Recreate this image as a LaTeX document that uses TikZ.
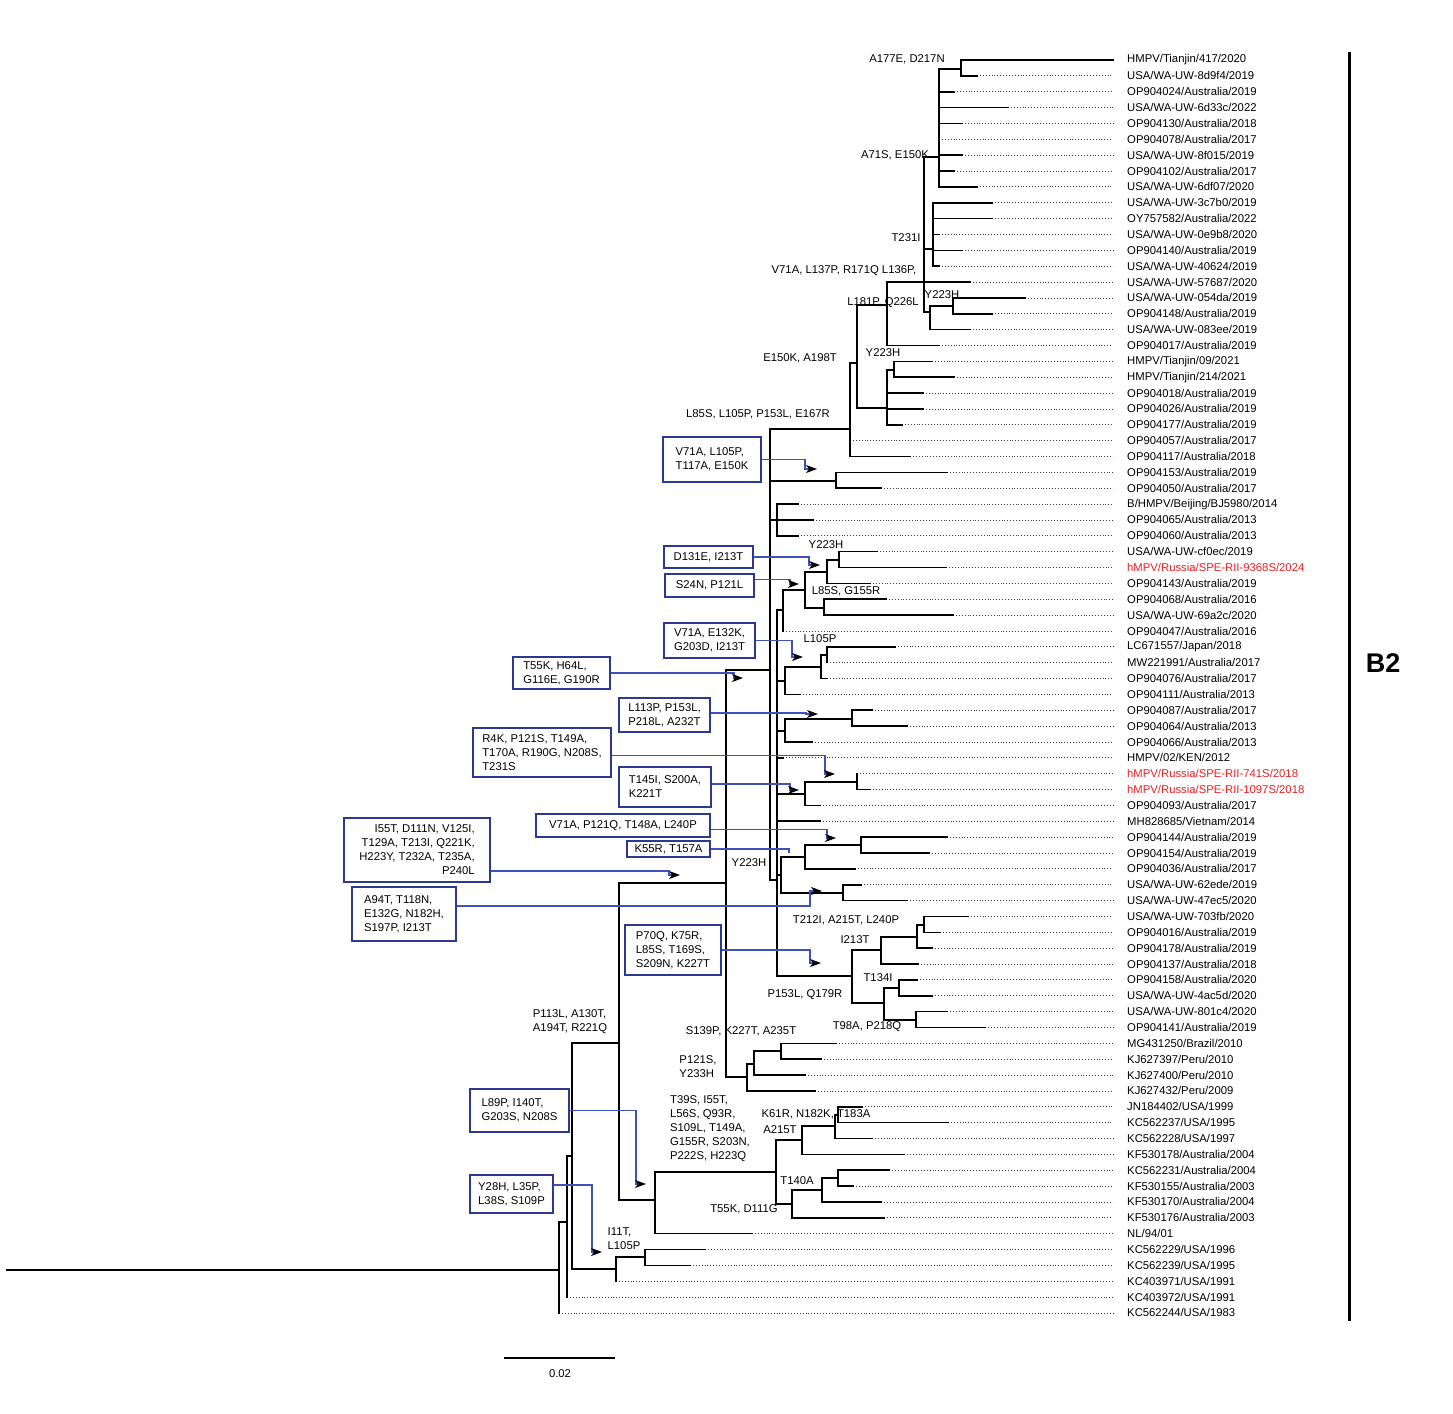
\documentclass[tikz,border=0pt]{standalone}
\usepackage{fontspec}
\setmainfont{Liberation Sans}
\usepackage{tikz}
\usetikzlibrary{arrows.meta}
\definecolor{boxblue}{RGB}{43,57,144}
\definecolor{callblue}{RGB}{62,82,185}
\definecolor{seqred}{RGB}{236,32,36}
\def\drawbranch{\draw[color=black, line width=1.6pt, line cap=rect]}
\def\drawtwig{\draw[color=black!75, line width=0.8pt, dash pattern=on 0.9pt off 2pt]}
\def\drawcall{\draw[color=callblue, line width=1.1pt, -{Stealth[color=black,length=11pt,width=8pt,inset=3pt]}]}
\tikzset{
  mutbox/.style={draw=boxblue, line width=2pt, align=left, anchor=north west, inner sep=3pt},
  mutlbl/.style={align=left, inner sep=0pt},
  leaflbl/.style={anchor=west, inner sep=0pt}
}

\begin{document}
\begin{tikzpicture}[x=1pt, y=-1pt, font=\fontsize{11.3}{14}\selectfont]
\useasboundingbox (0,0) rectangle (1453,1413);
% tips of the tree
\foreach \i/\ex/\col/\nm in {
 1/1113/black/{HMPV/Tianjin/417/2020}, 2/977/black/{USA/WA-UW-8d9f4/2019},
 3/954/black/{OP904024/Australia/2019}, 4/1008/black/{USA/WA-UW-6d33c/2022},
 5/962/black/{OP904130/Australia/2018}, 6/939/black/{OP904078/Australia/2017},
 7/962/black/{USA/WA-UW-8f015/2019}, 8/954/black/{OP904102/Australia/2017},
 9/977/black/{USA/WA-UW-6df07/2020}, 10/992/black/{USA/WA-UW-3c7b0/2019},
 11/992/black/{OY757582/Australia/2022}, 12/939/black/{USA/WA-UW-0e9b8/2020},
 13/962/black/{OP904140/Australia/2019}, 14/939/black/{USA/WA-UW-40624/2019},
 15/970/black/{USA/WA-UW-57687/2020}, 16/1025/black/{USA/WA-UW-054da/2019},
 17/992/black/{OP904148/Australia/2019}, 18/970/black/{USA/WA-UW-083ee/2019},
 19/939/black/{OP904017/Australia/2019}, 20/932/black/{HMPV/Tianjin/09/2021},
 21/954/black/{HMPV/Tianjin/214/2021}, 22/923/black/{OP904018/Australia/2019},
 23/923/black/{OP904026/Australia/2019}, 24/902/black/{OP904177/Australia/2019},
 25/850/black/{OP904057/Australia/2017}, 26/910/black/{OP904117/Australia/2018},
 27/947/black/{OP904153/Australia/2019}, 28/881/black/{OP904050/Australia/2017},
 29/798/black/{B/HMPV/Beijing/BJ5980/2014}, 30/813/black/{OP904065/Australia/2013},
 31/798/black/{OP904060/Australia/2013}, 32/877/black/{USA/WA-UW-cf0ec/2019},
 33/946/seqred/{hMPV/Russia/SPE-RII-9368S/2024}, 34/870/black/{OP904143/Australia/2019},
 35/886/black/{OP904068/Australia/2016}, 36/953/black/{USA/WA-UW-69a2c/2020},
 37/783/black/{OP904047/Australia/2016}, 38/895/black/{LC671557/Japan/2018},
 39/827/black/{MW221991/Australia/2017}, 40/827/black/{OP904076/Australia/2017},
 41/800/black/{OP904111/Australia/2013}, 42/872/black/{OP904087/Australia/2017},
 43/907/black/{OP904064/Australia/2013}, 44/812/black/{OP904066/Australia/2013},
 45/783/black/{HMPV/02/KEN/2012}, 46/857/seqred/{hMPV/Russia/SPE-RII-741S/2018},
 47/870/seqred/{hMPV/Russia/SPE-RII-1097S/2018}, 48/820/black/{OP904093/Australia/2017},
 49/820/black/{MH828685/Vietnam/2014}, 50/947/black/{OP904144/Australia/2019},
 51/929/black/{OP904154/Australia/2019}, 52/855/black/{OP904036/Australia/2017},
 53/861/black/{USA/WA-UW-62ede/2019}, 54/907/black/{USA/WA-UW-47ec5/2020},
 55/968/black/{USA/WA-UW-703fb/2020}, 56/940/black/{OP904016/Australia/2019},
 57/932/black/{OP904178/Australia/2019}, 58/918/black/{OP904137/Australia/2018},
 59/917/black/{OP904158/Australia/2020}, 60/932/black/{USA/WA-UW-4ac5d/2020},
 61/947/black/{USA/WA-UW-801c4/2020}, 62/985/black/{OP904141/Australia/2019},
 63/836/black/{MG431250/Brazil/2010}, 64/821/black/{KJ627397/Peru/2010},
 65/805/black/{KJ627400/Peru/2010}, 66/815/black/{KJ627432/Peru/2009},
 67/862/black/{JN184402/USA/1999}, 68/948/black/{KC562237/USA/1995},
 69/872/black/{KC562228/USA/1997}, 70/904/black/{KF530178/Australia/2004},
 71/889/black/{KC562231/Australia/2004}, 72/853/black/{KF530155/Australia/2003},
 73/881/black/{KF530170/Australia/2004}, 74/884/black/{KF530176/Australia/2003},
 75/752/black/{NL/94/01}, 76/705/black/{KC562229/USA/1996},
 77/690/black/{KC562239/USA/1995}, 78/616/black/{KC403971/USA/1991},
 79/567/black/{KC403972/USA/1991}, 80/559/black/{KC562244/USA/1983}}{
  \pgfmathsetmacro\yy{60+(\i-1)*15.86}
  \node[leaflbl] (l\i) at (1127,\yy) {\textcolor{\col}{\nm}};
  \coordinate (e\i) at (\ex,\yy);
  \drawtwig (e\i) -- ([xshift=-14pt]l\i.west);
}
% inner nodes
\coordinate (n1) at (961,69);
\coordinate (n2) at (939,157);
\coordinate (n3) at (933,249);
\coordinate (n4) at (953,306);
\coordinate (n5) at (930,312);
\coordinate (n6) at (924,282);
\coordinate (n7) at (887,305);
\coordinate (n8) at (894,370);
\coordinate (n9) at (887,408);
\coordinate (n10) at (857,363);
\coordinate (n11) at (850,429);
\coordinate (n12) at (836,481);
\coordinate (n13) at (777,520);
\coordinate (n14) at (839,560);
\coordinate (n15) at (827,572);
\coordinate (n16) at (824,608);
\coordinate (n17) at (805,590);
\coordinate (n18) at (783,610);
\coordinate (n19) at (827,655);
\coordinate (n20) at (821,667);
\coordinate (n21) at (785,681);
\coordinate (n22) at (852,719);
\coordinate (n23) at (785,731);
\coordinate (n24) at (857,782);
\coordinate (n25) at (805,794);
\coordinate (n26) at (861,845);
\coordinate (n27) at (805,857);
\coordinate (n28) at (843,893);
\coordinate (n29) at (781,875);
\coordinate (n30) at (924,925);
\coordinate (n31) at (917,937);
\coordinate (n32) at (881,950);
\coordinate (n33) at (899,988);
\coordinate (n34) at (916,1020);
\coordinate (n35) at (884,1003);
\coordinate (n36) at (852,976);
\coordinate (n37) at (777,880);
\coordinate (n38) at (770,670);
\coordinate (n39) at (781,1051);
\coordinate (n40) at (754,1064);
\coordinate (n41) at (747,1077);
\coordinate (n42) at (726,883);
\coordinate (n43) at (838,1115);
\coordinate (n44) at (835,1126);
\coordinate (n45) at (802,1140);
\coordinate (n46) at (838,1178);
\coordinate (n47) at (822,1190);
\coordinate (n48) at (792,1204);
\coordinate (n49) at (776,1172);
\coordinate (n50) at (655,1200);
\coordinate (n51) at (619,1043);
\coordinate (n52) at (645,1257);
\coordinate (n53) at (616,1269);
\coordinate (n54) at (572,1156);
\coordinate (n55) at (567,1222);
\coordinate (n56) at (559,1270);
\coordinate (rt) at (7,1270);
\drawbranch (rt) -- (n56);
\foreach \p/\c in {n1/e1,n1/e2,n2/n1,n2/e3,n2/e4,n2/e5,n2/e6,n2/e7,n2/e8,n2/e9,
  n3/e10,n3/e11,n3/e12,n3/e13,n3/e14,n4/e16,n4/e17,n5/n4,n5/e18,n6/n2,n6/n3,n6/e15,n6/n5,
  n7/n6,n7/e19,n8/e20,n8/e21,n9/n8,n9/e22,n9/e23,n9/e24,n10/n7,n10/n9,n11/n10,n11/e25,n11/e26,
  n12/e27,n12/e28,n13/e29,n13/e30,n13/e31,n14/e32,n14/e33,n15/n14,n15/e34,n16/e35,n16/e36,
  n17/n15,n17/n16,n18/n17,n18/e37,n19/e38,n19/e39,n20/n19,n20/e40,n21/n20,n21/e41,
  n22/e42,n22/e43,n23/n22,n23/e44,n24/e46,n24/e47,n25/n24,n25/e48,n26/e50,n26/e51,
  n27/n26,n27/e52,n28/e53,n28/e54,n29/n27,n29/n28,n30/e55,n30/e56,n31/n30,n31/e57,
  n32/n31,n32/e58,n33/e59,n33/e60,n34/e61,n34/e62,n35/n33,n35/n34,n36/n32,n36/n35,
  n37/n18,n37/n21,n37/n23,n37/e45,n37/n25,n37/e49,n37/n29,n37/n36,
  n38/n11,n38/n12,n38/n13,n38/n37,n39/e63,n39/e64,n40/n39,n40/e65,n41/n40,n41/e66,
  n42/n38,n42/n41,n43/e67,n43/e68,n44/n43,n44/e69,n45/n44,n45/e70,n46/e71,n46/e72,
  n47/n46,n47/e73,n48/n47,n48/e74,n49/n45,n49/n48,n50/n49,n50/e75,n51/n42,n51/n50,
  n52/e76,n52/e77,n53/n52,n53/e78,n54/n51,n54/n53,n55/n54,n55/e79,n56/n55,n56/e80}
  \drawbranch (\p) |- (\c);
% substitutions on branches
\node[mutlbl] (m1) at (907,59) {A177E, D217N};
\node[mutlbl] (m2) at (895,155) {A71S, E150K};
\node[mutlbl] (m3) at (906,238) {T231I};
\node[mutlbl] (m4) at (844,271) {V71A, L137P, R171Q L136P,};
\node[mutlbl] (m5) at (883,303) {L181P, Q226L};
\node[mutlbl] (m6) at (942,295) {Y223H};
\node[mutlbl] (m7) at (800,358) {E150K, A198T};
\node[mutlbl] (m8) at (883,353) {Y223H};
\node[mutlbl] (m9) at (758,414) {L85S, L105P, P153L, E167R};
\node[mutlbl] (m10) at (826,545) {Y223H};
\node[mutlbl] (m11) at (846,591) {L85S, G155R};
\node[mutlbl] (m12) at (820,639) {L105P};
\node[mutlbl] (m13) at (749,863) {Y223H};
\node[mutlbl] (m14) at (846,920) {T212I, A215T, L240P};
\node[mutlbl] (m15) at (855,940) {I213T};
\node[mutlbl] (m16) at (878,978) {T134I};
\node[mutlbl] (m17) at (805,995) {P153L, Q179R};
\node[mutlbl] (m18) at (867,1027) {T98A, P218Q};
\node[mutlbl] (m19) at (570,1022) {P113L, A130T,\\A194T, R221Q};
\node[mutlbl] (m20) at (741,1031) {S139P, K227T, A235T};
\node[mutlbl] (m21) at (698,1067) {P121S,\\Y233H};
\node[mutlbl] (m22) at (710,1129) {T39S, I55T,\\L56S, Q93R,\\S109L, T149A,\\G155R, S203N,\\P222S, H223Q};
\node[mutlbl] (m23) at (816,1114) {K61R, N182K, T183A};
\node[mutlbl] (m24) at (780,1130) {A215T};
\node[mutlbl] (m25) at (797,1181) {T140A};
\node[mutlbl] (m26) at (744,1209) {T55K, D111G};
\node[mutlbl] (m27) at (624,1239) {I11T,\\L105P};
% boxed substitutions
\node[mutbox, minimum width=98, minimum height=45] (b1) at (662,436) {V71A, L105P,\\T117A, E150K};
\node[mutbox, minimum width=89, minimum height=22] (b2) at (663,545) {D131E, I213T};
\node[mutbox, minimum width=89, minimum height=23] (b3) at (664,573) {S24N, P121L};
\node[mutbox, minimum width=91, minimum height=35] (b4) at (663,622) {V71A, E132K,\\G203D, I213T};
\node[mutbox, minimum width=97, minimum height=32] (b5) at (512,656) {T55K, H64L,\\G116E, G190R};
\node[mutbox, minimum width=91, minimum height=34] (b6) at (618,697) {L113P, P153L,\\P218L, A232T};
\node[mutbox, minimum width=138, minimum height=49] (b7) at (472,727) {R4K, P121S, T149A,\\T170A, R190G, N208S,\\T231S};
\node[mutbox, minimum width=92, minimum height=40] (b8) at (618,766) {T145I, S200A,\\K221T};
\node[mutbox, minimum width=174, minimum height=23] (b9) at (535,813) {V71A, P121Q, T148A, L240P};
\node[mutbox, minimum width=83, minimum height=16, inner ysep=1pt] (b10) at (626,840) {K55R, T157A};
\node[mutbox, minimum width=146, minimum height=64, align=right] (b11) at (343,817) {I55T, D111N, V125I,\\T129A, T213I, Q221K,\\H223Y, T232A, T235A,\\P240L};
\node[mutbox, minimum width=104, minimum height=54] (b12) at (351,886) {A94T, T118N,\\E132G, N182H,\\S197P, I213T};
\node[mutbox, minimum width=96, minimum height=50] (b13) at (624,924) {P70Q, K75R,\\L85S, T169S,\\S209N, K227T};
\node[mutbox, minimum width=99, minimum height=43] (b14) at (469,1088) {L89P, I140T,\\G203S, N208S};
\node[mutbox, minimum width=83, minimum height=38] (b15) at (469,1174) {Y28H, L35P,\\L38S, S109P};
% where the boxes point
\coordinate (t1) at (817,469);
\coordinate (t2) at (820,565);
\coordinate (t3) at (799,584);
\coordinate (t4) at (803,657);
\coordinate (t5) at (743,678);
\coordinate (t6) at (818,714);
\coordinate (t7) at (835,774);
\coordinate (t8) at (799,790);
\coordinate (t9) at (836,838);
\coordinate (t10) at (789,853);
\coordinate (t11) at (680,875);
\coordinate (t12) at (822,891);
\coordinate (t13) at (821,963);
\coordinate (t14) at (646,1184);
\coordinate (t15) at (602,1252);
\foreach \b/\s/\t/\d in {b1/0/t1/12, b2/0/t2/11, b3/6/t3/9, b4/0/t4/11, b5/0/t5/9,
  b6/2/t6/12, b7/-3/t7/10, b8/3/t8/9, b9/-4/t9/9, b11/-21/t11/11, b12/8/t12/12,
  b13/0/t13/11, b14/0/t14/10, b15/9/t15/10}
  \drawcall ([yshift=\s]\b.east) -| ([xshift=-\d]\t) -- (\t);
\draw[color=callblue, line width=1.1pt] (b10.east) -| (t10);
% scale and clade bar
\coordinate (sbl) at (505,1358);
\coordinate (sbr) at (614,1358);
\drawbranch (sbl) -- (sbr);
\node (sbtxt) at (560,1374) {0.02};
\coordinate (bartop) at (1349,52);
\coordinate (barbot) at (1349,1321);
\draw[line width=3pt] (bartop) -- (barbot);
\node[font=\fontsize{27}{30}\selectfont\bfseries] (clade) at (1383,663) {B2};
\end{tikzpicture}
\end{document}
